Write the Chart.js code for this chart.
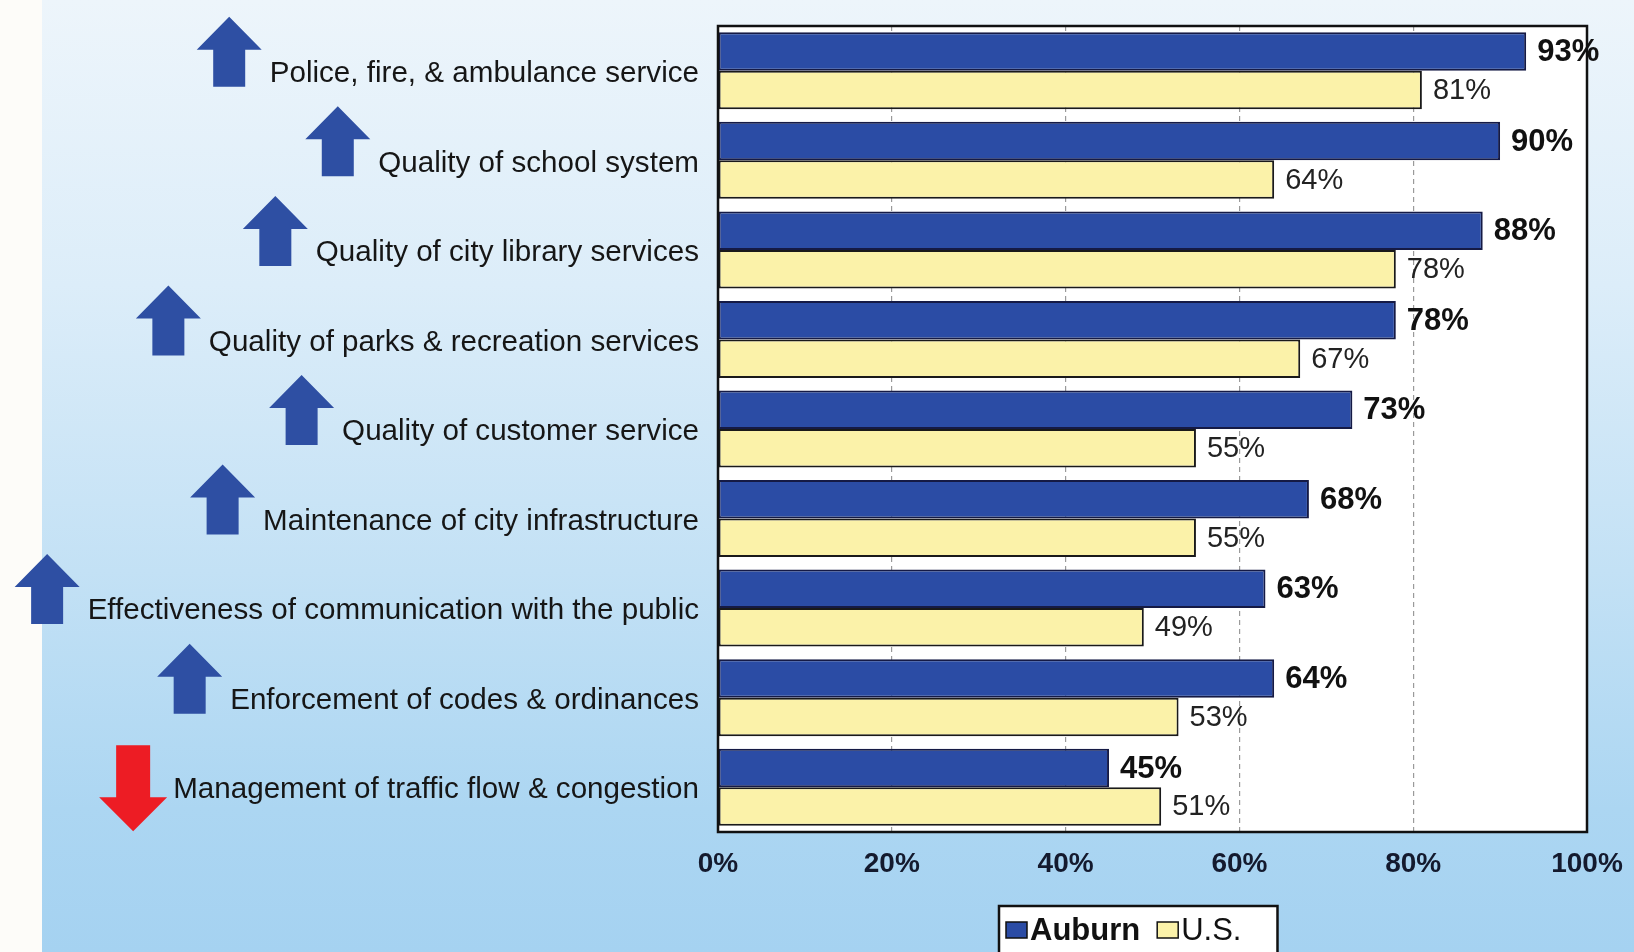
<!DOCTYPE html>
<html>
<head>
<meta charset="utf-8">
<title>Service ratings: Auburn vs U.S.</title>
<script src="https://cdn.jsdelivr.net/npm/chart.js@4.4.1/dist/chart.umd.min.js"></script>
<style>
  html, body { margin: 0; padding: 0; background: #fdfcf9; }
  #wrap { position: relative; width: 1634px; height: 952px; overflow: hidden; }
  #bg {
    position: absolute; left: 42px; top: 0; right: 0; bottom: 0;
    background: linear-gradient(to bottom, #edf5fb 0%, #dcedf9 30%, #c3e1f5 60%, #acd6f2 85%, #a5d2f1 100%);
  }
  #chart { position: absolute; left: 0; top: 0; }
</style>
</head>
<body>
<div id="wrap">
  <div id="bg"></div>
  <canvas id="chart" width="1634" height="952"></canvas>
</div>
<script>
// Ratings (% excellent or good)
const services = [
  "Police, fire, & ambulance service",
  "Quality of school system",
  "Quality of city library services",
  "Quality of parks & recreation services",
  "Quality of customer service",
  "Maintenance of city infrastructure",
  "Effectiveness of communication with the public",
  "Enforcement of codes & ordinances",
  "Management of traffic flow & congestion"
];
const auburn = [93, 90, 88, 78, 73, 68, 63, 64, 45];
const us = [81, 64, 78, 67, 55, 55, 49, 53, 51];
// trend since last survey
const trend = ["up", "up", "up", "up", "up", "up", "up", "up", "down"];
const xTicks = [0, 20, 40, 60, 80, 100];

const FONT = "'Liberation Sans', Arial, sans-serif";
const BLUE = "#2b4ca5";
const YELLOW = "#fbf2a9";

// white plot background + black frame
const plotFrame = {
  id: "plotFrame",
  beforeDraw(chart) {
    const { ctx, chartArea: a } = chart;
    ctx.save();
    ctx.fillStyle = "#ffffff";
    ctx.fillRect(a.left, a.top, a.right - a.left, a.bottom - a.top);
    ctx.restore();
  },
  afterDatasetsDraw(chart) {
    const { ctx, chartArea: a } = chart;
    ctx.save();
    ctx.strokeStyle = "#111111";
    ctx.lineWidth = 2.5;
    ctx.strokeRect(a.left, a.top, a.right - a.left, a.bottom - a.top);
    ctx.restore();
  }
};

// value labels at bar ends
const valueLabels = {
  id: "valueLabels",
  afterDatasetsDraw(chart) {
    const ctx = chart.ctx;
    ctx.save();
    ctx.textBaseline = "middle";
    ctx.textAlign = "left";
    chart.data.datasets.forEach((ds, di) => {
      const meta = chart.getDatasetMeta(di);
      ctx.font = (di === 0 ? "bold 31px " : "29px ") + FONT;
      ctx.fillStyle = di === 0 ? "#111111" : "#222222";
      meta.data.forEach((bar, i) => {
        ctx.fillText(ds.data[i] + "%", bar.x + 11, bar.y + 1);
      });
    });
    ctx.restore();
  }
};

function drawArrow(ctx, cx, top, w, h, headH, shaftW, dir, color) {
  ctx.save();
  ctx.fillStyle = color;
  ctx.beginPath();
  if (dir === "up") {
    const bottom = top + h;
    ctx.moveTo(cx, top);
    ctx.lineTo(cx + w / 2, top + headH);
    ctx.lineTo(cx + shaftW / 2, top + headH);
    ctx.lineTo(cx + shaftW / 2, bottom);
    ctx.lineTo(cx - shaftW / 2, bottom);
    ctx.lineTo(cx - shaftW / 2, top + headH);
    ctx.lineTo(cx - w / 2, top + headH);
  } else {
    const tip = top + h;
    ctx.moveTo(cx - shaftW / 2, top);
    ctx.lineTo(cx + shaftW / 2, top);
    ctx.lineTo(cx + shaftW / 2, tip - headH);
    ctx.lineTo(cx + w / 2, tip - headH);
    ctx.lineTo(cx, tip);
    ctx.lineTo(cx - w / 2, tip - headH);
    ctx.lineTo(cx - shaftW / 2, tip - headH);
  }
  ctx.closePath();
  ctx.fill();
  ctx.restore();
}

// trend arrows left of each category label
const trendArrows = {
  id: "trendArrows",
  afterDraw(chart) {
    const ctx = chart.ctx;
    const yScale = chart.scales.y;
    const pad = yScale.options.ticks.padding;
    ctx.save();
    ctx.font = yScale.options.ticks.font.size + "px " + FONT;
    services.forEach((label, i) => {
      const cy = yScale.getPixelForTick(i);
      const textLeft = chart.chartArea.left - pad - ctx.measureText(label).width;
      if (trend[i] === "up") {
        const w = 65;
        drawArrow(ctx, textLeft - 16 - w / 2, cy + 16 - 70, w, 70, 33, 32, "up", "#2e4fa3");
      } else {
        const w = 68;
        drawArrow(ctx, textLeft - 14 - w / 2, cy - 42, w, 86, 34, 34, "down", "#ed1c24");
      }
    });
    ctx.restore();
  }
};

// boxed legend under the x axis
const boxLegend = {
  id: "boxLegend",
  afterDraw(chart) {
    const ctx = chart.ctx;
    const a = chart.chartArea;
    const ds = chart.data.datasets;
    ctx.save();
    ctx.font = "bold 31px " + FONT;
    const w0 = ctx.measureText(ds[0].label).width;
    ctx.font = "31px " + FONT;
    const w1 = ctx.measureText(ds[1].label).width;
    const sw = 21, gap = 3, space = 17, inner = 7, tail = 36;
    const boxW = inner + sw + gap + w0 + space + sw + gap + w1 + tail;
    const left = Math.round((a.left + a.right) / 2 - 14 - boxW / 2);
    const top = 906;
    ctx.fillStyle = "#ffffff";
    ctx.fillRect(left, top, boxW, 60);
    ctx.strokeStyle = "#111111";
    ctx.lineWidth = 2.5;
    ctx.strokeRect(left, top, boxW, 60);

    const cy = 930;
    let x = left + inner;
    ctx.lineWidth = 1.5;
    ctx.fillStyle = ds[0].backgroundColor;
    ctx.fillRect(x, cy - 8, sw, 16);
    ctx.strokeRect(x, cy - 8, sw, 16);
    x += sw + gap;
    ctx.fillStyle = "#111111";
    ctx.textBaseline = "middle";
    ctx.font = "bold 31px " + FONT;
    ctx.fillText(ds[0].label, x, cy + 1);
    x += w0 + space;
    ctx.fillStyle = ds[1].backgroundColor;
    ctx.fillRect(x, cy - 8, sw, 16);
    ctx.strokeRect(x, cy - 8, sw, 16);
    x += sw + gap;
    ctx.fillStyle = "#111111";
    ctx.font = "31px " + FONT;
    ctx.fillText(ds[1].label, x, cy + 1);
    ctx.restore();
  }
};

new Chart(document.getElementById("chart"), {
  type: "bar",
  data: {
    labels: services,
    datasets: [
      {
        label: "Auburn",
        data: auburn,
        backgroundColor: BLUE,
        borderColor: "#151a45",
        borderWidth: 2,
        borderSkipped: false
      },
      {
        label: "U.S.",
        data: us,
        backgroundColor: YELLOW,
        borderColor: "#1a1a1a",
        borderWidth: 2,
        borderSkipped: false
      }
    ]
  },
  options: {
    indexAxis: "y",
    responsive: false,
    animation: false,
    devicePixelRatio: 1,
    categoryPercentage: 0.86,
    barPercentage: 1.0,
    layout: { padding: { top: 26, right: 47, bottom: 0, left: 0 } },
    plugins: {
      legend: { display: false },
      tooltip: { enabled: false }
    },
    scales: {
      x: {
        min: 0,
        max: 100,
        afterBuildTicks(scale) {
          scale.ticks = xTicks.map(v => ({ value: v }));
        },
        afterFit(scale) {
          scale.height = 120;
          scale.paddingLeft = 0;
          scale.paddingRight = 0;
        },
        ticks: {
          callback: v => v + "%",
          font: { family: FONT, size: 28, weight: "bold" },
          color: "#141a2e",
          padding: 15,
          maxRotation: 0
        },
        grid: {
          color: "#9a9a9a",
          lineWidth: 1.2,
          drawTicks: false
        },
        border: { display: false, dash: [5, 4] }
      },
      y: {
        afterFit(scale) {
          scale.width = 718;
          scale.paddingTop = 0;
          scale.paddingBottom = 0;
        },
        ticks: {
          font: { family: FONT, size: 29.6 },
          color: "#161616",
          padding: 11,
          labelOffset: 3,
          autoSkip: false
        },
        grid: { display: false },
        border: { display: false }
      }
    }
  },
  plugins: [plotFrame, valueLabels, trendArrows, boxLegend]
});
</script>
</body>
</html>
